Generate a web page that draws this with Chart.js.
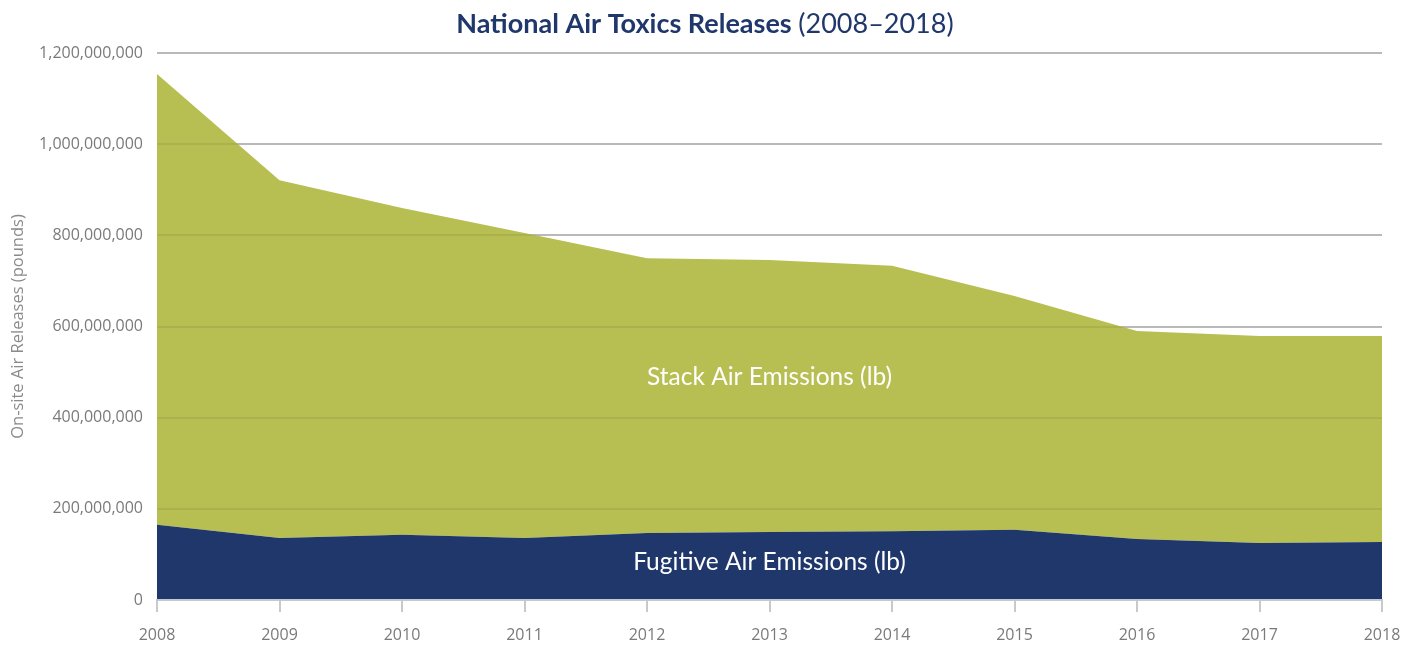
<!DOCTYPE html>
<html>
<head>
<meta charset="utf-8">
<script src="https://cdn.jsdelivr.net/npm/chart.js@4"></script>
<style>
  html, body { margin: 0; padding: 0; background: #fff; }
  canvas { display: block; }
</style>
</head>
<body>
<canvas id="chart-area" width="1405" height="645"></canvas>
<script>
// data (pounds)
var years = ['2008', '2009', '2010', '2011', '2012', '2013', '2014', '2015', '2016', '2017', '2018'];
var fugitive = [165e6, 136e6, 143e6, 136e6, 147e6, 149e6, 151e6, 154e6, 134e6, 125e6, 127e6];
var stack = [989e6, 785e6, 717e6, 669e6, 603e6, 597e6, 582e6, 513e6, 456e6, 454e6, 452e6];
var yTicks = [0, 200e6, 400e6, 600e6, 800e6, 1000e6, 1200e6];

var navy = '#1f376b';
var olive = '#b8bf52';

// title with a bold part and a plain part
var titlePlugin = {
    id: 'mixedTitle',
    afterDraw: function (chart) {
        var c = chart.ctx;
        var bold = 'National Air Toxics Releases ';
        var plain = '(2008\u20132018)';
        c.save();
        c.fillStyle = navy;
        c.textBaseline = 'middle';
        c.font = 'bold 27px Lato';
        var w1 = c.measureText(bold).width;
        c.font = '27px Lato';
        var w2 = c.measureText(plain).width;
        var x = 705 - (w1 + w2) / 2;
        c.font = 'bold 27px Lato';
        c.fillText(bold, x, 24);
        c.font = '27px Lato';
        c.fillText(plain, x + w1, 24);
        c.restore();
    }
};

// faint grid lines showing through the filled areas, plus series names
var overlay = {
    id: 'overlay',
    afterDatasetsDraw: function (chart) {
        var c = chart.ctx;
        var xs = chart.scales.x, ys = chart.scales.y;
        var a = chart.chartArea;
        c.save();
        c.strokeStyle = 'rgba(0,0,0,0.07)';
        c.lineWidth = 2;
        yTicks.forEach(function (v) {
            if (v === 0) return;
            var py = Math.round(ys.getPixelForValue(v));
            c.beginPath();
            c.moveTo(a.left, py);
            c.lineTo(a.right, py);
            c.stroke();
        });
        c.fillStyle = '#fff';
        c.font = '24.5px Lato';
        c.textAlign = 'center';
        c.textBaseline = 'middle';
        c.fillText('Stack Air Emissions (lb)', xs.getPixelForValue(5), ys.getPixelForValue(489e6));
        c.fillText('Fugitive Air Emissions (lb)', xs.getPixelForValue(5), ys.getPixelForValue(83e6));
        c.restore();
    }
};

var chart = new Chart(document.getElementById('chart-area'), {
    type: 'line',
    data: {
        labels: years,
        datasets: [{
            label: 'Fugitive Air Emissions (lb)',
            data: fugitive,
            backgroundColor: navy,
            borderWidth: 0,
            pointRadius: 0,
            fill: 'origin'
        }, {
            label: 'Stack Air Emissions (lb)',
            data: stack,
            backgroundColor: olive,
            borderWidth: 0,
            pointRadius: 0,
            fill: '-1'
        }]
    },
    options: {
        responsive: false,
        animation: false,
        layout: { padding: { top: 53, right: 23, left: 0, bottom: 0 } },
        plugins: {
            legend: { display: false },
            tooltip: { enabled: false }
        },
        scales: {
            x: {
                afterFit: function (axis) {
                    axis.height = 45;
                    axis.paddingLeft = 0;
                    axis.paddingRight = 0;
                },
                grid: {
                    display: true,
                    drawOnChartArea: false,
                    drawTicks: true,
                    tickLength: 12,
                    color: '#c9c9c9',
                    lineWidth: 2
                },
                border: { color: '#c2c8d4', width: 2, z: 1 },
                ticks: {
                    color: '#7a7a7a',
                    font: { family: 'Open Sans', size: 16 },
                    padding: 14,
                    autoSkip: false,
                    maxRotation: 0
                }
            },
            y: {
                stacked: true,
                min: 0,
                max: 1200e6,
                afterFit: function (axis) { axis.width = 157; },
                afterBuildTicks: function (axis) {
                    axis.ticks = yTicks.map(function (v) { return { value: v }; });
                },
                grid: {
                    color: '#c8c8c8',
                    lineWidth: 2,
                    drawTicks: false
                },
                border: { display: false },
                ticks: {
                    color: '#7a7a7a',
                    font: { family: 'Open Sans', size: 16 },
                    padding: 14,
                    callback: function (v) { return v.toLocaleString('en-US'); }
                },
                title: {
                    display: true,
                    text: 'On-site Air Releases (pounds)',
                    color: '#8a8a8a',
                    font: { family: 'Open Sans', size: 16.5 },
                    padding: { top: 8, bottom: 0 }
                }
            }
        }
    },
    plugins: [titlePlugin, overlay]
});
</script>
</body>
</html>
